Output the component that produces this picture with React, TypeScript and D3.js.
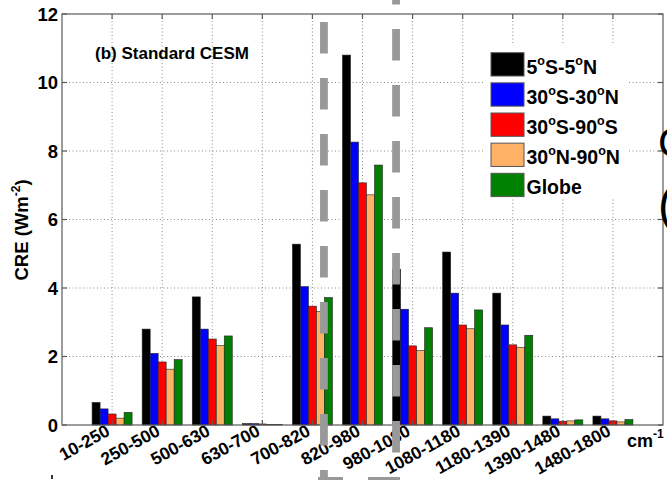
import React from 'react';
import * as d3 from 'd3';

const categories = ['10-250', '250-500', '500-630', '630-700', '700-820', '820-980', '980-1080', '1080-1180', '1180-1390', '1390-1480', '1480-1800'];
const seriesKeys = ['s1', 's2', 's3', 's4', 's5'];
const seriesLabels: string[][] = [
  ['5', 'o', 'S-5', 'o', 'N'],
  ['30', 'o', 'S-30', 'o', 'N'],
  ['30', 'o', 'S-90', 'o', 'S'],
  ['30', 'o', 'N-90', 'o', 'N'],
  ['Globe'],
];
const seriesColors = ['#000000', '#0000FF', '#FF0000', '#FFB266', '#008000'];
const tropics5 = [0.66, 2.80, 3.74, 0.04, 5.28, 10.8, 4.55, 5.05, 3.85, 0.26, 0.26];
const tropics30 = [0.47, 2.09, 2.80, 0.04, 4.04, 8.26, 3.38, 3.85, 2.92, 0.18, 0.18];
const southern = [0.32, 1.84, 2.51, 0.03, 3.47, 7.07, 2.31, 2.92, 2.34, 0.11, 0.12];
const northern = [0.20, 1.63, 2.32, 0.02, 3.31, 6.72, 2.17, 2.81, 2.27, 0.12, 0.09];
const globe = [0.37, 1.91, 2.60, 0.02, 3.72, 7.59, 2.84, 3.36, 2.62, 0.15, 0.16];
const seriesValues = [tropics5, tropics30, southern, northern, globe];
const yTicks = [0, 2, 4, 6, 8, 10, 12];
const gridY = [2, 4, 6, 8, 10];
const dashedLineValues = [5.23, 6.67]; // positions in category units (x axis 0..12)
const dashedLineStarts = [-34, -27];

const W = 667;
const H = 480;
const L = 62, R = 663, T = 14, B = 425;
const FONT = '"Liberation Sans", Arial, Helvetica, sans-serif';

export default function App() {
  const xAxis = d3.scaleLinear().domain([0, 12]).range([L, R]);
  const x = d3.scalePoint<string>().domain(categories).range([xAxis(1), xAxis(11)]);
  const inner = d3.scaleBand<string>().domain(seriesKeys).range([-20, 20]);
  const y = d3.scaleLinear().domain([0, 12]).range([B, T]);

  const legendX = 491;
  const legendY = 52.7;
  const legendStep = 30.15;

  return (
    <svg width={W} height={H} style={{ position: 'absolute', left: 0, top: 0, background: '#fff' }} fontFamily={FONT}>
      <defs>
        <filter id="blur" x="-50%" y="-10%" width="200%" height="120%">
          <feGaussianBlur stdDeviation="1.6" />
        </filter>
      </defs>
      <rect x={0} y={0} width={W} height={H} fill="#fff" />
      {/* grid */}
      <g stroke="#8a8a8a" strokeWidth={1} strokeDasharray="1 2.5">
        {categories.map((c) => (
          <line key={c} x1={x(c)} x2={x(c)} y1={T} y2={B} />
        ))}
        {gridY.map((v) => (
          <line key={v} x1={L} x2={R} y1={y(v)} y2={y(v)} />
        ))}
      </g>
      {/* bars */}
      <g>
        {categories.map((c, ci) =>
          seriesKeys.map((k, si) => {
            const v = seriesValues[si][ci];
            const bx = (x(c) as number) + (inner(k) as number);
            return (
              <rect
                key={c + k}
                x={bx}
                y={y(v)}
                width={inner.bandwidth()}
                height={y(0) - y(v)}
                fill={seriesColors[si]}
                stroke="#222"
                strokeWidth={0.6}
              />
            );
          })
        )}
      </g>
      {/* frame */}
      <g stroke="#5a5a5a" strokeWidth={1.2} fill="none">
        <rect x={L} y={T} width={R - L} height={B - T} />
        {yTicks.map((v) => (
          <g key={v}>
            <line x1={L} x2={L + 5} y1={y(v)} y2={y(v)} />
            <line x1={R} x2={R - 5} y1={y(v)} y2={y(v)} />
          </g>
        ))}
        {categories.map((c) => (
          <g key={c}>
            <line x1={x(c)} x2={x(c)} y1={T} y2={T + 5} />
            <line x1={x(c)} x2={x(c)} y1={B} y2={B - 5} />
          </g>
        ))}
      </g>
      {/* y tick labels */}
      <g fontWeight="bold" fontSize={18.5} textAnchor="end" fill="#000">
        {yTicks.map((v) => (
          <text key={v} x={58} y={y(v) + 6.5}>{v}</text>
        ))}
      </g>
      {/* y axis label */}
      <text transform={`translate(28,230) rotate(-90)`} textAnchor="middle" fontWeight="bold" fontSize={18.5}>
        CRE (Wm<tspan fontSize={12} dy={-8}>-2</tspan><tspan dy={8}>)</tspan>
      </text>
      {/* x tick labels */}
      <g fontWeight="bold" fontSize={17.5} textAnchor="end">
        {categories.map((c) => (
          <text key={c} transform={`translate(${(x(c) as number) - 1},434.5) rotate(-29)`}>{c}</text>
        ))}
      </g>
      <text x={627} y={447} fontWeight="bold" fontSize={18}>
        cm<tspan fontSize={12} dy={-9}>-1</tspan>
      </text>
      {/* title */}
      <text x={95} y={59} fontWeight="bold" fontSize={17}>(b) Standard CESM</text>
      {/* legend */}
      <g>
        <rect x={483} y={43} width={144} height={154} fill="#fff" />
        {seriesLabels.map((parts, i) => {
          const top = legendY + i * legendStep;
          return (
            <g key={i}>
              <rect x={legendX} y={top} width={33} height={23.3} fill={seriesColors[i]} stroke="#555" strokeWidth={1} />
              <text x={526.5} y={top + 21} fontWeight="bold" fontSize={19.5}>
                {parts.map((p, j) =>
                  j % 2 === 1 ? (
                    <tspan key={j} fontSize={12.5} dy={-9}>{p}</tspan>
                  ) : (
                    <tspan key={j} dy={j === 0 ? 0 : 9}>{p}</tspan>
                  )
                )}
              </text>
            </g>
          );
        })}
      </g>
      {/* fragments at right edge */}
      <text x={658} y={157} fontSize={42} fill="#000">C</text>
      <text x={658} y={221} fontSize={48} fill="#000">(</text>
      {/* dashed gray overlay lines */}
      <g>
        {dashedLineValues.map((v, i) => (
          <g key={i}>
            <line x1={xAxis(v)} x2={xAxis(v)} y1={dashedLineStarts[i]} y2={H + 40} stroke="#777" strokeOpacity={0.5} strokeWidth={9} strokeDasharray="32 24" filter="url(#blur)" />
            <line x1={xAxis(v)} x2={xAxis(v)} y1={dashedLineStarts[i]} y2={H + 40} stroke="#999" strokeWidth={7.8} strokeDasharray="31.5 24.5" />
          </g>
        ))}
        <rect x={318} y={477} width={25} height={4} fill="#999" />
        <rect x={368} y={477} width={30} height={4} fill="#999" />
      </g>
      <rect x={51} y={475} width={2} height={4} fill="#333" />
    </svg>
  );
}
